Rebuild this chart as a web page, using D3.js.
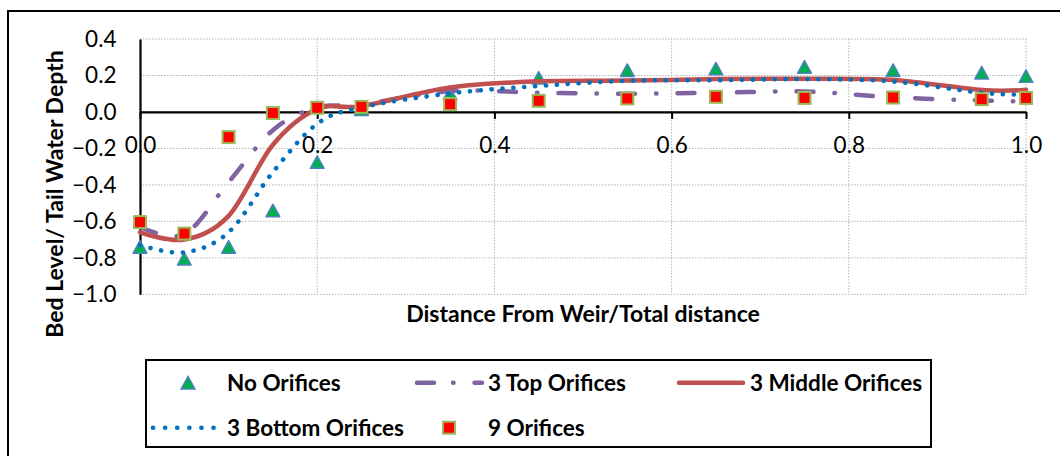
<!DOCTYPE html>
<html><head><meta charset="utf-8">
<script src="https://cdn.jsdelivr.net/npm/d3@7"></script>
<style>
html,body{margin:0;padding:0;background:#fff;}
svg{display:block;font-family:Lato,"Open Sans",sans-serif;}
</style></head>
<body>
<svg id="chart" width="1060" height="456"></svg>
<script>
// ---- data ----
const xValues = [0, 0.05, 0.1, 0.15, 0.2, 0.25, 0.35, 0.45, 0.55, 0.65, 0.75, 0.85, 0.95, 1.0];
const noOrifices     = [-0.74, -0.805, -0.74, -0.54, -0.275, 0.015, 0.10, 0.187, 0.229, 0.238, 0.247, 0.229, 0.215, 0.197];
const topOrifices    = [-0.63, -0.67, -0.385, -0.10, 0.025, 0.04, 0.115, 0.105, 0.10, 0.105, 0.112, 0.08, 0.063, 0.058];
const middleOrifices = [-0.66, -0.70, -0.57, -0.18, 0.017, 0.032, 0.134, 0.168, 0.172, 0.18, 0.182, 0.175, 0.12, 0.122];
const bottomOrifices = [-0.73, -0.77, -0.66, -0.33, -0.065, 0.025, 0.102, 0.142, 0.171, 0.174, 0.18, 0.167, 0.105, 0.096];
const nineOrifices   = [-0.604, -0.667, -0.138, -0.006, 0.023, 0.028, 0.043, 0.061, 0.074, 0.083, 0.077, 0.079, 0.070, 0.077];
const xTicks = [0, 0.2, 0.4, 0.6, 0.8, 1.0];
const yTicks = [-1.0, -0.8, -0.6, -0.4, -0.2, 0.0, 0.2, 0.4];
const seriesNames = ["No Orifices", "3 Top Orifices", "3 Middle Orifices", "3 Bottom Orifices", "9 Orifices"];
const xTitle = "Distance From Weir/Total distance";
const yTitle = "Bed Level/ Tail Water Depth";

// ---- layout ----
const svg = d3.select("#chart");
const L = 140, R = 1026, T = 39, B = 294.3;
const x = d3.scaleLinear().domain([0, 1]).range([L, R]);
const y = d3.scaleLinear().domain([-1, 0.4]).range([B, T]);
const fmt = d3.format(".1f");
const FS = 22.5;

// outer frame
svg.append("rect").attr("x", 8).attr("y", 11).attr("width", 1100).attr("height", 500)
  .attr("fill", "none").attr("stroke", "#000").attr("stroke-width", 2);

// gridlines
const grid = svg.append("g").attr("stroke", "#b3b3b3").attr("stroke-width", 1).attr("stroke-dasharray", "1.5 1.5");
grid.selectAll("line.h").data(yTicks).join("line").attr("class", "h")
  .attr("x1", L).attr("x2", R).attr("y1", d => y(d)).attr("y2", d => y(d));
grid.selectAll("line.v").data(xTicks.filter(d => d > 0)).join("line").attr("class", "v")
  .attr("x1", d => x(d)).attr("x2", d => x(d)).attr("y1", T).attr("y2", B);

// y axis
const yAxis = svg.append("g").attr("transform", `translate(${L},0)`)
  .call(d3.axisLeft(y).tickValues(yTicks).tickFormat(fmt).tickSize(0).tickSizeOuter(0).tickPadding(23.5));
yAxis.select(".domain").attr("stroke", "#000").attr("stroke-width", 2.2);
yAxis.selectAll("text").attr("font-size", FS).attr("font-family", "Lato").attr("fill", "#000");

// x axis at y=0
const xAxis = svg.append("g").attr("transform", `translate(0,${y(0)})`)
  .call(d3.axisBottom(x).tickValues(xTicks).tickFormat(fmt).tickSize(7).tickSizeOuter(0).tickPadding(18));
xAxis.select(".domain").attr("stroke", "#000").attr("stroke-width", 2.2);
xAxis.selectAll(".tick line").attr("stroke", "#000").attr("stroke-width", 2);
xAxis.selectAll("text").attr("font-size", FS).attr("font-family", "Lato").attr("fill", "#000");

// axis titles
svg.append("text").attr("x", 583).attr("y", 322).attr("text-anchor", "middle")
  .attr("font-size", 23).attr("font-weight", "bold").attr("fill", "#000").text(xTitle);
svg.append("text").attr("transform", "translate(63,194) rotate(-90)").attr("text-anchor", "middle")
  .attr("font-size", 23).attr("font-weight", "bold").attr("fill", "#000").text(yTitle);

// ---- series ----
const pts = vals => xValues.map((d, i) => [x(d), y(vals[i])]);
const line = d3.line().curve(d3.curveCardinal.tension(0));

const triPath = (cx, cy, s) => `M${cx},${cy - s * 0.5}L${cx + s * 0.55},${cy + s * 0.5}L${cx - s * 0.55},${cy + s * 0.5}Z`;

const styles = {
  top:    {stroke: "#8064A2", width: 4.5, dash: "17 21 0.5 21", cap: "round"},
  middle: {stroke: "#C0504D", width: 4.5, dash: null, cap: "round"},
  bottom: {stroke: "#0070C0", width: 4.6, dash: "0.1 10.8", cap: "round"}
};

// triangles
svg.append("g").selectAll("path").data(pts(noOrifices)).join("path")
  .attr("d", d => triPath(d[0], d[1], 12.5))
  .attr("fill", "#00B050").attr("stroke", "#4F81BD").attr("stroke-width", 1.5).attr("stroke-linejoin", "round");

function drawLine(vals, st) {
  svg.append("path").attr("d", line(pts(vals))).attr("fill", "none")
    .attr("stroke", st.stroke).attr("stroke-width", st.width)
    .attr("stroke-linecap", st.cap).attr("stroke-linejoin", "round")
    .attr("stroke-dasharray", st.dash);
}
drawLine(topOrifices, styles.top);
drawLine(middleOrifices, styles.middle);
drawLine(bottomOrifices, styles.bottom);

// squares
svg.append("g").selectAll("rect").data(pts(nineOrifices)).join("rect")
  .attr("x", d => d[0] - 6).attr("y", d => d[1] - 6).attr("width", 12).attr("height", 12)
  .attr("fill", "#FF0000").attr("stroke", "#9BBB59").attr("stroke-width", 2);

// ---- legend ----
const lg = svg.append("g");
lg.append("rect").attr("x", 146).attr("y", 360).attr("width", 785).attr("height", 87)
  .attr("fill", "#fff").attr("stroke", "#000").attr("stroke-width", 2);
const r1 = 382.7, r2 = 427.7;
// No Orifices
lg.append("path").attr("d", triPath(188, r1, 12.5)).attr("fill", "#00B050").attr("stroke", "#4F81BD").attr("stroke-width", 1.5);
// 3 Top
lg.append("line").attr("x1", 417).attr("x2", 482).attr("y1", r1).attr("y2", r1)
  .attr("stroke", styles.top.stroke).attr("stroke-width", styles.top.width).attr("stroke-linecap", "round")
  .attr("stroke-dasharray", "17 19 0.5 21");
// 3 Middle
lg.append("line").attr("x1", 679).attr("x2", 743).attr("y1", r1).attr("y2", r1)
  .attr("stroke", styles.middle.stroke).attr("stroke-width", styles.middle.width).attr("stroke-linecap", "round");
// 3 Bottom
lg.append("line").attr("x1", 153).attr("x2", 214).attr("y1", r2).attr("y2", r2)
  .attr("stroke", styles.bottom.stroke).attr("stroke-width", styles.bottom.width).attr("stroke-linecap", "round")
  .attr("stroke-dasharray", "0.1 12");
// 9 Orifices
lg.append("rect").attr("x", 443).attr("y", r2 - 6).attr("width", 12).attr("height", 12)
  .attr("fill", "#FF0000").attr("stroke", "#9BBB59").attr("stroke-width", 2);

const legendText = [
  {name: seriesNames[0], x: 227, y: r1 + 8},
  {name: seriesNames[1], x: 488, y: r1 + 8},
  {name: seriesNames[2], x: 750, y: r1 + 8},
  {name: seriesNames[3], x: 227, y: r2 + 8},
  {name: seriesNames[4], x: 488, y: r2 + 8}
];
lg.selectAll("text").data(legendText).join("text")
  .attr("x", d => d.x).attr("y", d => d.y).attr("font-size", FS).attr("font-weight", "bold")
  .attr("fill", "#000").text(d => d.name);
</script>
</body></html>
